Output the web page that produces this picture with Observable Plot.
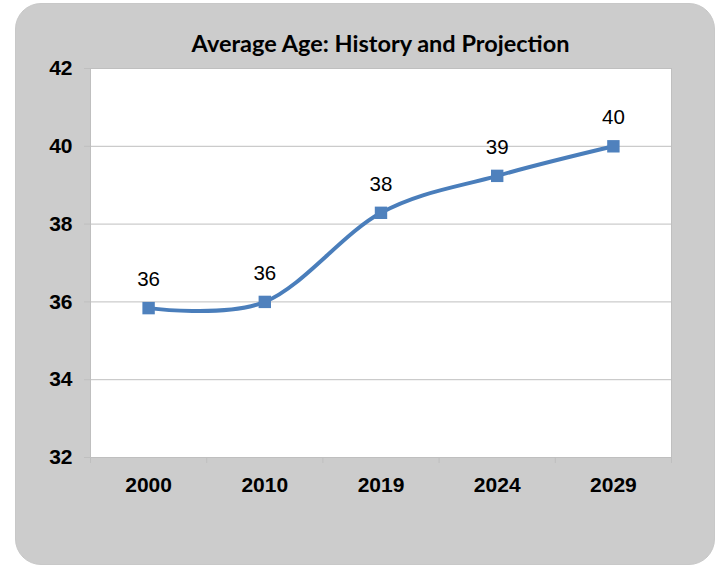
<!DOCTYPE html>
<html>
<head>
<meta charset="utf-8">
<script src="https://cdn.jsdelivr.net/npm/d3@7"></script>
<script src="https://cdn.jsdelivr.net/npm/@observablehq/plot@0.6"></script>
<style>
  html, body { margin: 0; padding: 0; background: #ffffff; }
  #page { position: relative; width: 719px; height: 567px; overflow: hidden; }
  #box { position: absolute; left: 15px; top: 3px; width: 700px; height: 562px;
         background: #cccccc; border-radius: 26px; box-sizing: border-box; border: 1px solid #c8c8c8; }
  #title { position: absolute; left: 90px; width: 581px; top: 29px; text-align: center;
           font-family: Lato, "Open Sans", sans-serif; font-weight: bold; font-size: 23.5px; color: #000; line-height: 28px; }
  #chart { position: absolute; left: 0; top: 0; }
</style>
</head>
<body>
<div id="page">
  <div id="box"></div>
  <div id="title">Average Age: History and Projection</div>
  <div id="chart"></div>
</div>
<script>
const years = ["2000", "2010", "2019", "2024", "2029"];
const ages = [35.84, 36.0, 38.29, 39.24, 40.0];
const labels = ["36", "36", "38", "39", "40"];
const yTicks = [32, 34, 36, 38, 40, 42];

const data = years.map((y, i) => ({i, year: y, age: ages[i], label: labels[i]}));
const idx = years.map((_, i) => i);
const bounds = [-0.5, ...idx.map(i => i + 0.5)];

const blue = "#4F81BD";
const grid = "#bfbfbf";

const plot = Plot.plot({
  width: 719,
  height: 567,
  marginLeft: 90,
  marginRight: 48,
  marginTop: 68,
  marginBottom: 110,
  style: {background: "transparent", fontFamily: "'Liberation Sans', Arial, sans-serif", overflow: "visible"},
  x: {type: "linear", domain: [-0.5, years.length - 0.5]},
  y: {domain: [32, 42]},
  marks: [
    Plot.frame({fill: "white", stroke: grid}),
    Plot.gridY(yTicks, {stroke: grid, strokeOpacity: 1, strokeWidth: 1}),
    Plot.axisY({ticks: yTicks, tickSize: 6, tickPadding: 12, stroke: grid, label: null,
      fontSize: 21, fontWeight: "bold", fill: "#000"}),
    Plot.axisX({ticks: bounds, tickSize: 6, tickFormat: () => "", stroke: grid, label: null}),
    Plot.axisX({ticks: idx, tickSize: 0, tickPadding: 20, tickFormat: i => years[i], label: null,
      fontSize: 21, fontWeight: "bold", fill: "#000"}),
    Plot.line(data, {x: "i", y: "age", curve: "cardinal", tension: 0, stroke: "#4A7EBB", strokeWidth: 4}),
    Plot.dot(data, {x: "i", y: "age", symbol: "square", r: 7, fill: blue, stroke: "none"}),
    Plot.text(data, {x: "i", y: "age", text: "label", dy: -22, lineAnchor: "bottom",
      fontSize: 20.5, fill: "#000"})
  ]
});
document.getElementById("chart").appendChild(plot);
</script>
</body>
</html>
